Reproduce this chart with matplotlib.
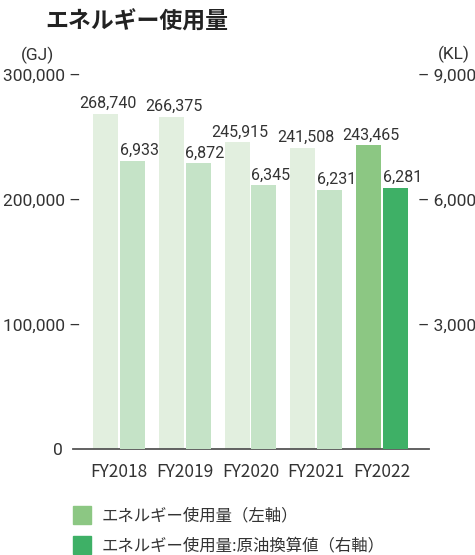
import numpy as np
import matplotlib
matplotlib.use("Agg")
import matplotlib.pyplot as plt
from matplotlib.patches import Patch

years = ["FY2018", "FY2019", "FY2020", "FY2021", "FY2022"]
energy_gj = [268740, 266375, 245915, 241508, 243465]
crude_kl = [6933, 6872, 6345, 6231, 6281]
left_ticks = [0, 100000, 200000, 300000]
right_ticks = [3000, 6000, 9000]

# pale colours for past years, strong colours for the latest year
gj_colors = ["#e2efdf"] * 4 + ["#8cc783"]
kl_colors = ["#c5e3c7"] * 4 + ["#3eb066"]

TXT = "#333333"
NUM_FONT = ["Roboto", "DejaVu Sans"]
JP_FONT = ["Noto Sans CJK JP", "DejaVu Sans"]

fig = plt.figure(figsize=(4.75, 5.55), dpi=100)
ax = fig.add_axes([73 / 475, 106 / 555, 356 / 475, 374 / 555])
ax2 = ax.twinx()

x = np.arange(len(years))
w = 0.38
off = 0.205

b1 = ax.bar(x - off, energy_gj, w, color=gj_colors, zorder=2)
b2 = ax2.bar(x + off, crude_kl, w, color=kl_colors, zorder=2)

ax.set_xlim(-0.70, 4.715)
ax.set_ylim(0, 300000)
ax2.set_ylim(0, 9000)

for rect, v in zip(b1, energy_gj):
    ax.annotate(f"{v:,}", (rect.get_x() + rect.get_width() / 2, v),
                xytext=(2, 2), textcoords="offset points", ha="center", va="bottom",
                family=NUM_FONT, fontsize=11.5, color=TXT)
for rect, v in zip(b2, crude_kl):
    ax2.annotate(f"{v:,}", (rect.get_x() + rect.get_width() / 2, v),
                 xytext=(5, 2), textcoords="offset points", ha="center", va="bottom",
                 family=NUM_FONT, fontsize=11.5, color=TXT)

# axes: only the baseline is drawn, tick marks are part of the labels
for a in (ax, ax2):
    for s in ("top", "left", "right"):
        a.spines[s].set_visible(False)
ax2.spines["bottom"].set_visible(False)
ax.spines["bottom"].set_color("#555555")
ax.spines["bottom"].set_linewidth(1.3)

ax.set_yticks(left_ticks)
ax.set_yticklabels([f"{t:,} \u2013" if t else "0\u2003" for t in left_ticks],
                   family=NUM_FONT, fontsize=12.5, color=TXT)
ax.tick_params(axis="y", length=0, pad=-5.5)

ax2.set_yticks(right_ticks)
ax2.set_yticklabels([f"\u2013 {t:,}" for t in right_ticks],
                    family=NUM_FONT, fontsize=12.5, color=TXT)
ax2.tick_params(axis="y", length=0, pad=-8)

ax.set_xticks(x)
ax.set_xticklabels(years, family=JP_FONT, fontsize=12.5, color=TXT)
ax.tick_params(axis="x", length=0, pad=10)

fig.text(45 / 475, 1 - 22 / 555, "エネルギー使用量", family=JP_FONT, fontsize=16.5,
         fontweight="bold", color="#222222", va="center", ha="left")
fig.text(37 / 475, 1 - 55 / 555, "(GJ)", family=NUM_FONT, fontsize=12.5, color=TXT,
         ha="center", va="center")
fig.text(454 / 475, 1 - 54 / 555, "(KL)", family=NUM_FONT, fontsize=12.5, color=TXT,
         ha="center", va="center")

handles = [Patch(color=gj_colors[-1], label="エネルギー使用量（左軸）"),
           Patch(color=kl_colors[-1], label="エネルギー使用量:原油換算値（右軸）")]
fig.legend(handles=handles, loc="upper left", bbox_to_anchor=(73 / 475, 1 - 506 / 555),
           borderpad=0, borderaxespad=0, handlelength=1.1, handleheight=1.3,
           handletextpad=0.65, labelspacing=0.72, frameon=False,
           prop={"family": JP_FONT, "size": 11.8}, labelcolor=TXT)

fig.savefig("out.png", dpi=100)
